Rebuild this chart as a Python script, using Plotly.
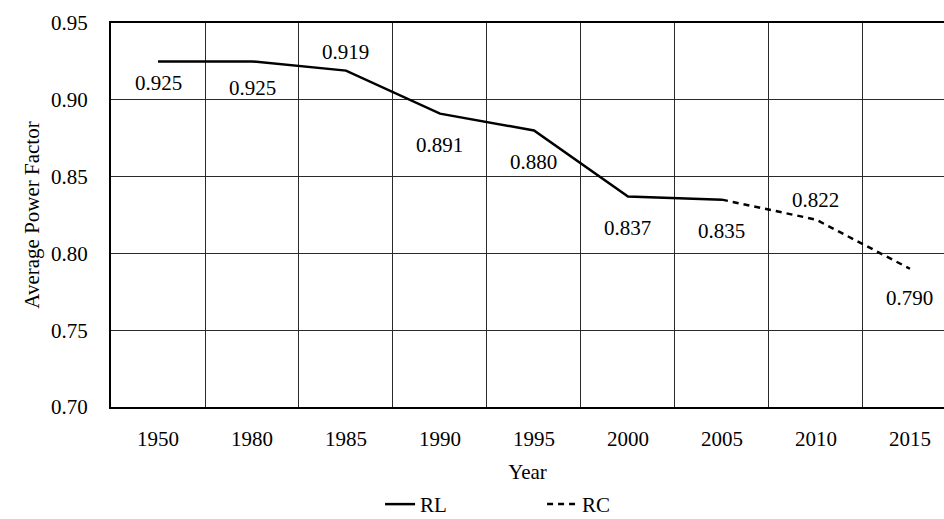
import plotly.graph_objects as go

years = ["1950", "1980", "1985", "1990", "1995", "2000", "2005", "2010", "2015"]
rl_years = ["1950", "1980", "1985", "1990", "1995", "2000", "2005"]
rl_values = [0.925, 0.925, 0.919, 0.891, 0.880, 0.837, 0.835]
rc_years = ["2005", "2010", "2015"]
rc_values = [0.835, 0.822, 0.790]
label_years = years
label_values = [0.925, 0.925, 0.919, 0.891, 0.880, 0.837, 0.835, 0.822, 0.790]
label_shift = [-22, -27, 19, -31, -31, -31, -31, 20, -29]

FONT = "Liberation Serif"

fig = go.Figure()
fig.add_trace(go.Scatter(x=rl_years, y=rl_values, mode="lines", name="RL",
                         line=dict(color="black", width=2.5)))
fig.add_trace(go.Scatter(x=rc_years, y=rc_values, mode="lines", name="RC",
                         line=dict(color="black", width=2.5, dash="6px,5px")))

for yr, v, s in zip(label_years, label_values, label_shift):
    fig.add_annotation(x=years.index(yr), y=v, xref="x", yref="y",
                       text=f"{v:.3f}", showarrow=False, yshift=s,
                       font=dict(family=FONT, size=21, color="black"))

fig.update_layout(
    width=944, height=519,
    margin=dict(l=111, r=0, t=23, b=112),
    paper_bgcolor="white", plot_bgcolor="white",
    font=dict(family=FONT, size=21, color="black"),
    showlegend=True,
    legend=dict(orientation="h", x=0.323, xanchor="left",
                yref="container", y=0.028, yanchor="middle",
                font=dict(family=FONT, size=21), entrywidth=117, entrywidthmode="pixels",
                bgcolor="rgba(0,0,0,0)"),
    xaxis=dict(type="category", categoryorder="array", categoryarray=years,
               range=[-0.5, 8.362], tickson="boundaries", ticks="",
               showgrid=True, gridcolor="#2a2a2a", gridwidth=1,
               showline=True, linecolor="black", linewidth=2, mirror=True,
               automargin=False, ticklabelstandoff=12,
               title=dict(text="Year", standoff=17, font=dict(family=FONT, size=21)),
               tickfont=dict(family=FONT, size=21), zeroline=False),
    yaxis=dict(range=[0.70, 0.95], dtick=0.05, tick0=0.70, tickformat=".2f",
               showgrid=True, gridcolor="#2a2a2a", gridwidth=1,
               showline=True, linecolor="black", linewidth=2, mirror=False,
               ticks="", automargin=False, ticklabelstandoff=17,
               title=dict(text="Average Power Factor", standoff=6, font=dict(family=FONT, size=21)),
               tickfont=dict(family=FONT, size=21), zeroline=False),
)

fig.write_html("out.html", config={"displayModeBar": False},
               post_script="document.body.style.margin='0';")
